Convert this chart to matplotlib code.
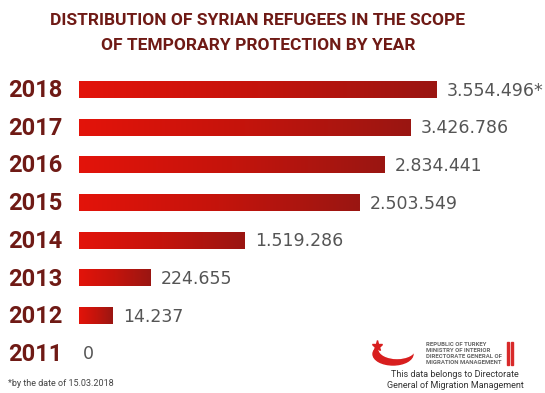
import matplotlib

matplotlib.use("Agg")

import matplotlib.pyplot as plt
import numpy as np
from matplotlib.colors import LinearSegmentedColormap
from matplotlib.patches import Ellipse, Rectangle

# values from the reference
years = ["2018", "2017", "2016", "2015", "2014", "2013", "2012", "2011"]
value_labels = ["3.554.496*", "3.426.786", "2.834.441", "2.503.549",
                "1.519.286", "224.655", "14.237", "0"]
# drawn bar lengths (decorative, not proportional in the original)
bar_length = [358, 332, 306, 281, 166, 72, 34, 0]

TITLE = "DISTRIBUTION OF SYRIAN REFUGEES IN THE SCOPE\nOF TEMPORARY PROTECTION BY YEAR"
FOOTNOTE = "*by the date of 15.03.2018"
LOGO_LINES = ["REPUBLIC OF TURKEY", "MINISTRY OF INTERIOR",
              "DIRECTORATE GENERAL OF", "MIGRATION MANAGEMENT"]
CREDIT = "This data belongs to Directorate\nGeneral of Migration Management"

DARK = "#6f1a15"
GREY = "#555555"
W, H = 545, 393
NARROW = ["Roboto", "DejaVu Sans"]

fig = plt.figure(figsize=(W / 100, H / 100), dpi=100)
ax = fig.add_axes([0, 0, 1, 1])
ax.set_xlim(0, W)
ax.set_ylim(H, 0)
ax.axis("off")

cmap = LinearSegmentedColormap.from_list("bar", ["#e3130a", "#c4140c", "#9a1612"])
grad = np.linspace(0, 1, 256).reshape(1, -1)

x0 = 79
y_first, step, bar_h = 89.5, 37.7, 17
for i, (yr, lab, ln) in enumerate(zip(years, value_labels, bar_length)):
    yc = y_first + i * step
    ax.text(8, yc + 1, yr, ha="left", va="center", fontsize=17, fontweight="bold",
            color=DARK, family=NARROW)
    if ln > 0:
        ax.imshow(grad, cmap=cmap, aspect="auto",
                  extent=[x0, x0 + ln, yc + bar_h / 2, yc - bar_h / 2], zorder=2)
    ax.text(x0 + ln + (10 if ln > 0 else 4), yc + 1, lab, ha="left", va="center",
            fontsize=12.5, color=GREY, family="DejaVu Sans")

ax.text(258, 33, TITLE, ha="center", va="center", fontsize=12.5, fontweight="bold",
        color=DARK, family=NARROW, linespacing=1.8)

ax.text(8, 383, FOOTNOTE, ha="left", va="center", fontsize=6.5, color="#444444",
        family=NARROW)

# logo: crescent + star
ax.add_patch(Ellipse((393, 354), 40, 22, color="#d81e1e", zorder=3))
ax.add_patch(Ellipse((397, 349), 36, 19, color="white", zorder=4))
ax.plot([377], [346], marker="*", markersize=8, color="#d81e1e", zorder=5)
for j, line in enumerate(LOGO_LINES):
    ax.text(426, 344 + j * 6.3, line, ha="left", va="center", fontsize=4.3,
            fontweight="bold", color="#666666", family=NARROW)
ax.add_patch(Rectangle((507, 342), 2.2, 23, color="#d82a2a"))
ax.add_patch(Rectangle((511, 342), 2.2, 23, color="#d82a2a"))
ax.text(455, 380, CREDIT, ha="center", va="center", fontsize=6.5, color="#333333",
        family=NARROW, linespacing=1.25)

fig.savefig("out.png", dpi=100)
